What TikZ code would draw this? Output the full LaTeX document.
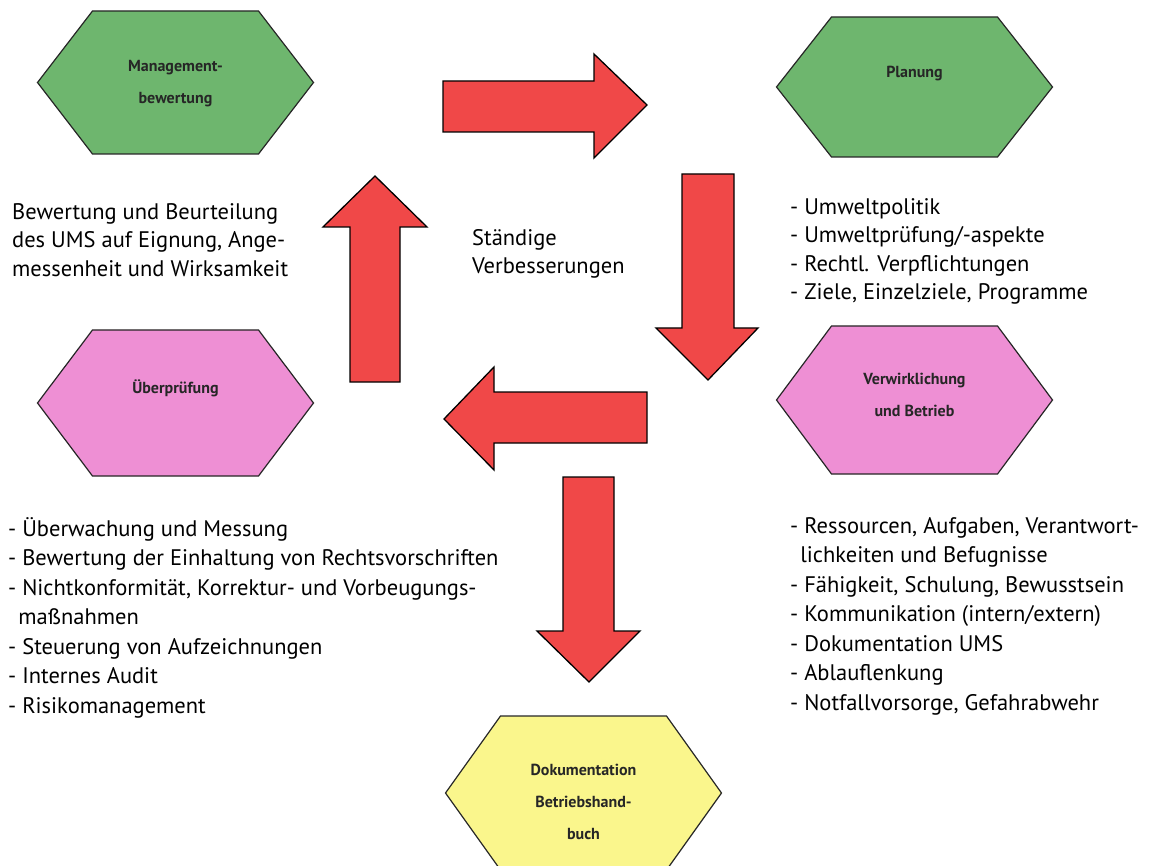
\documentclass[tikz,border=0pt]{standalone}
\usepackage{fontspec}
\setmainfont{PT Sans}

\definecolor{hexgreen}{RGB}{110,182,110}
\definecolor{hexpink}{RGB}{238,143,212}
\definecolor{hexyellow}{RGB}{250,246,140}
\definecolor{arrowred}{RGB}{240,72,72}

% hexagon around a centre: half width 138, half top edge 83
\newcommand{\hexa}[4]{%
  \draw[hexbox, fill=#1, shift={(#2,#3)}] (-138,0)--(-83,-#4)--(83,-#4)--(138,0)--(83,#4)--(-83,#4)--cycle;}

\tikzset{
  hexbox/.style={line width=1.2pt, draw=black!85},
  blockarrow/.style={fill=arrowred, draw=black, line width=1.3pt, line join=miter},
  hexlabel/.style={font=\bfseries\fontsize{16}{32}\selectfont, align=center, text=black!85},
  listtext/.style={font=\fontsize{22.5}{29.5}\selectfont, align=left, anchor=north west, inner sep=0pt},
  shorttext/.style={listtext, font=\fontsize{22.5}{28.5}\selectfont},
}

\begin{document}
\begin{tikzpicture}[x=1pt, y=-1pt]
  \useasboundingbox (0,0) rectangle (1164,866);
  \clip (0,0) rectangle (1164,866);

  % hexagons
  \hexa{hexgreen}{175.5}{82.5}{71.5}
  \hexa{hexgreen}{914.5}{87}{70}
  \hexa{hexpink}{175.5}{403}{73}
  \hexa{hexpink}{914.5}{400}{74}
  \hexa{hexyellow}{583.5}{793}{77}

  \node[hexlabel] (mgmt) at (175.5,84) {Management-\\bewertung};
  \node[hexlabel] (plan) at (914.5,74) {Planung};
  \node[hexlabel] (check) at (175.5,388) {Überprüfung};
  \node[hexlabel] (impl) at (914.5,395) {Verwirklichung\\und Betrieb};
  \node[hexlabel] (doc) at (583.5,802) {Dokumentation\\Betriebshand-\\buch};

  % block arrows
  \draw[blockarrow] (443,81)--(594,81)--(594,54)--(647,105)--(594,158)--(594,132)--(443,132)--cycle;
  \draw[blockarrow] (682,174)--(734,174)--(734,328)--(758,328)--(708,380)--(656,328)--(682,328)--cycle;
  \draw[blockarrow] (647,392)--(494,392)--(494,367)--(444,419)--(494,470)--(494,443)--(647,443)--cycle;
  \draw[blockarrow] (563,477)--(614,477)--(614,631)--(640,631)--(589,682)--(537,631)--(563,631)--cycle;
  \draw[blockarrow] (350,382)--(350,227)--(323,227)--(375,176)--(427,227)--(400,227)--(400,382)--cycle;

  % texts
  \node[shorttext] (mgmttext) at (12,203) {Bewertung und Beurteilung\\des UMS auf Eignung, Ange-\\messenheit und Wirksamkeit};
  \node[shorttext] (improve) at (472,229) {Ständige\\Verbesserungen};
  \node[shorttext] (plantext) at (790,198) {- Umweltpolitik\\- Umweltprüfung/-aspekte\\- Rechtl. Verpflichtungen\\- Ziele, Einzelziele, Programme};
  \node[listtext] (checktext) at (8,517) {- Überwachung und Messung\\- Bewertung der Einhaltung von Rechtsvorschriften\\- Nichtkonformität, Korrektur- und Vorbeugungs-\\\hspace*{0.45em}maßnahmen\\- Steuerung von Aufzeichnungen\\- Internes Audit\\- Risikomanagement};
  \node[listtext] (impltext) at (790,517) {- Ressourcen, Aufgaben, Verantwort-\\\hspace*{0.45em}lichkeiten und Befugnisse\\- Fähigkeit, Schulung, Bewusstsein\\- Kommunikation (intern/extern)\\- Dokumentation UMS\\- Ablauflenkung\\- Notfallvorsorge, Gefahrabwehr};
\end{tikzpicture}
\end{document}
